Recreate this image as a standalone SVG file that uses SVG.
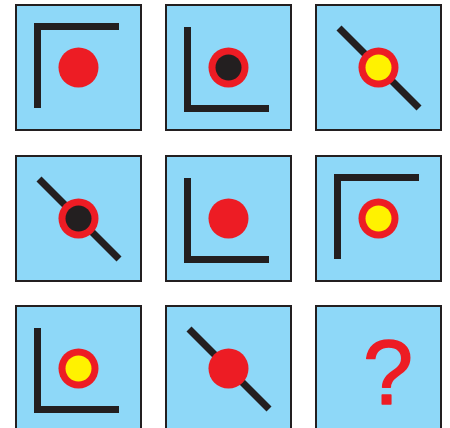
<svg xmlns="http://www.w3.org/2000/svg" width="450" height="428" viewBox="0 0 450 428">
<defs>
<style>
.box{fill:#8ed8f8;stroke:#231f20;stroke-width:2}
.bar{fill:none;stroke:#231f20;stroke-width:7;stroke-linecap:butt;stroke-linejoin:miter}
.red{fill:#ed1c24}
.blk{fill:#231f20}
.yel{fill:#fff200}
.q{font-family:"Liberation Sans",Arial,sans-serif;font-weight:normal;font-size:90px;fill:#ed1c24;stroke:#ed1c24;stroke-width:1.5;stroke-linejoin:round;text-anchor:middle}
</style>
<g id="cornerTL"><path class="bar" d="M22.5,104 V22.5 H104"/></g>
<g id="cornerBL"><path class="bar" d="M22.5,23 V104.5 H104"/></g>
<g id="diag"><line class="bar" x1="24" y1="24" x2="104" y2="104"/></g>
</defs>
<g id="p1" transform="translate(15,4)">
<rect class="box" x="1" y="1" width="125" height="125"/>
<use href="#cornerTL"/>
<circle class="red" cx="63.5" cy="63.5" r="20"/>
</g>
<g id="p2" transform="translate(165,4)">
<rect class="box" x="1" y="1" width="125" height="125"/>
<use href="#cornerBL"/>
<circle class="red" cx="63.5" cy="63.5" r="20"/>
<circle class="blk" cx="63.5" cy="63.5" r="13"/>
</g>
<g id="p3" transform="translate(315,4)">
<rect class="box" x="1" y="1" width="125" height="125"/>
<use href="#diag"/>
<circle class="red" cx="63.5" cy="63.5" r="20"/>
<circle class="yel" cx="63.5" cy="63.5" r="13"/>
</g>
<g id="p4" transform="translate(15,155)">
<rect class="box" x="1" y="1" width="125" height="125"/>
<use href="#diag"/>
<circle class="red" cx="63.5" cy="63.5" r="20"/>
<circle class="blk" cx="63.5" cy="63.5" r="13"/>
</g>
<g id="p5" transform="translate(165,155)">
<rect class="box" x="1" y="1" width="125" height="125"/>
<use href="#cornerBL"/>
<circle class="red" cx="63.5" cy="63.5" r="20"/>
</g>
<g id="p6" transform="translate(315,155)">
<rect class="box" x="1" y="1" width="125" height="125"/>
<use href="#cornerTL"/>
<circle class="red" cx="63.5" cy="63.5" r="20"/>
<circle class="yel" cx="63.5" cy="63.5" r="13"/>
</g>
<g id="p7" transform="translate(15,305)">
<rect class="box" x="1" y="1" width="125" height="125"/>
<use href="#cornerBL"/>
<circle class="red" cx="63.5" cy="63.5" r="20"/>
<circle class="yel" cx="63.5" cy="63.5" r="13"/>
</g>
<g id="p8" transform="translate(165,305)">
<rect class="box" x="1" y="1" width="125" height="125"/>
<use href="#diag"/>
<circle class="red" cx="63.5" cy="63.5" r="20"/>
</g>
<g id="p9" transform="translate(315,305)">
<rect class="box" x="1" y="1" width="125" height="125"/>
<text class="q" x="73" y="99">?</text>
</g>
</svg>
